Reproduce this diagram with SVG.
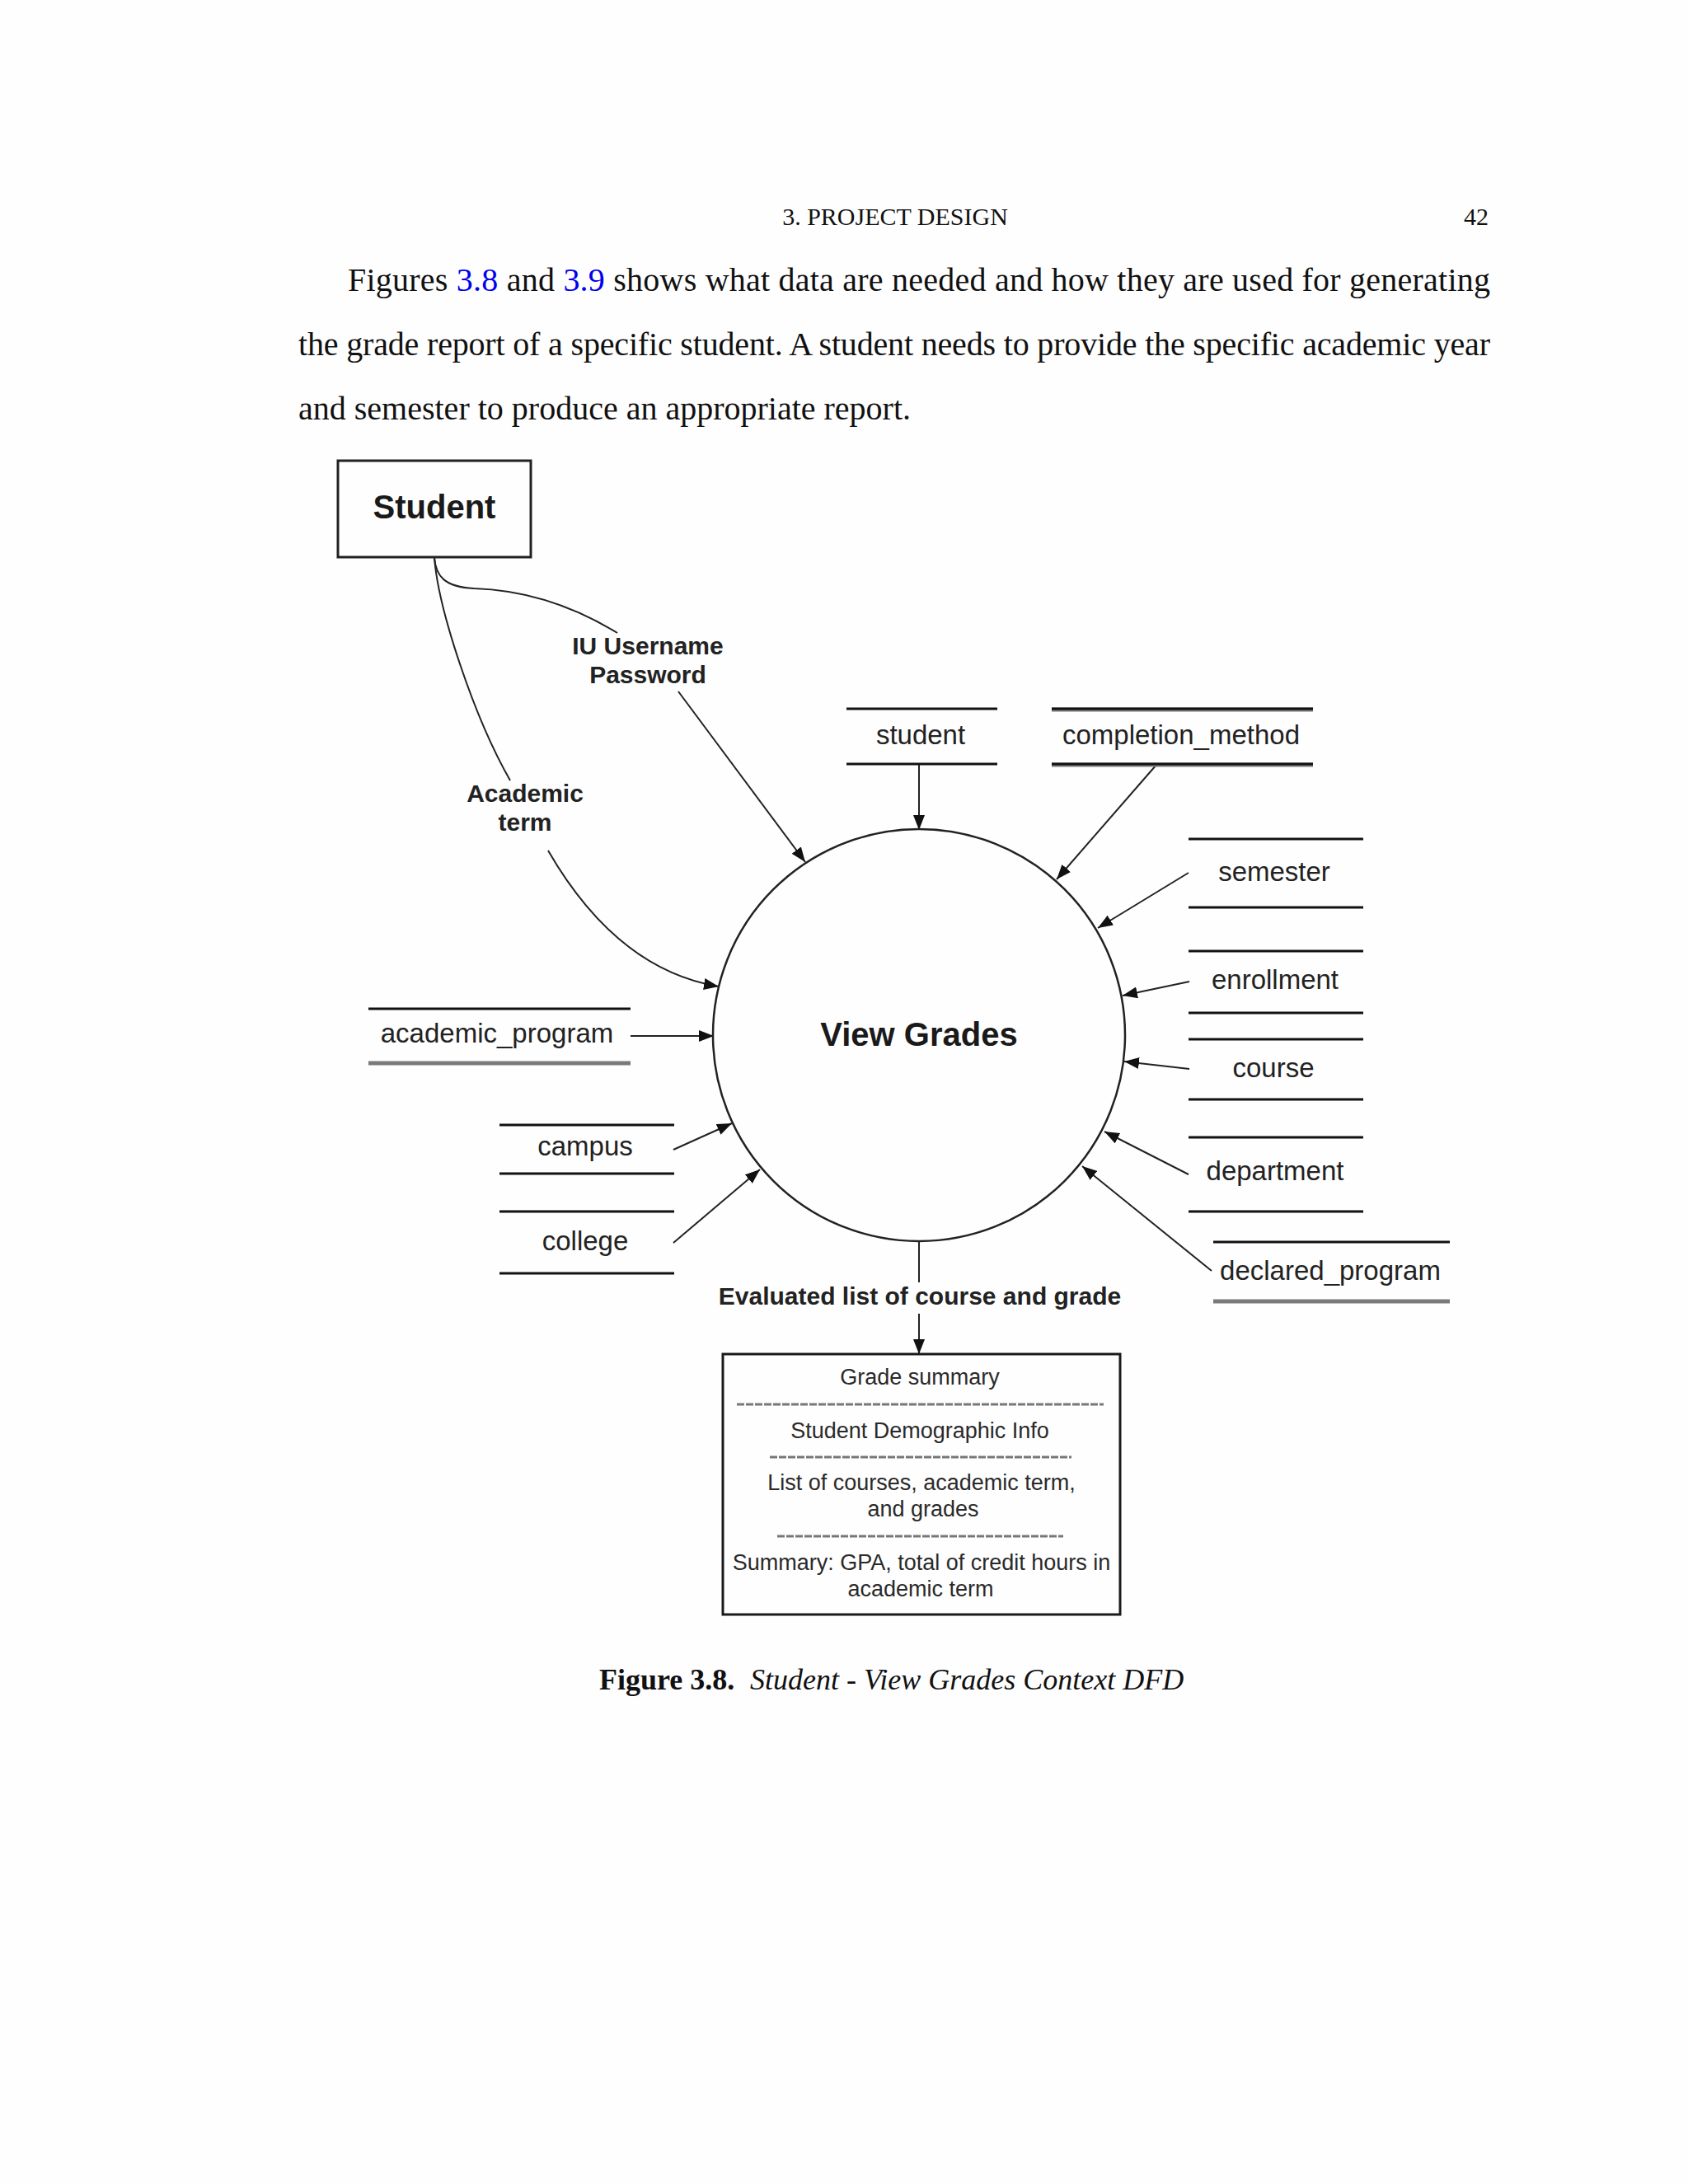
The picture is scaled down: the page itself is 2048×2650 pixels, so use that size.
<svg xmlns="http://www.w3.org/2000/svg" width="2048" height="2650" viewBox="0 0 2048 2650">
<style>
.serif{font-family:"Liberation Serif","Times New Roman",serif;fill:#111}
.sans{font-family:"Liberation Sans",Arial,sans-serif;fill:#222}
.lbl{font-family:"Liberation Sans",Arial,sans-serif;font-size:30px;font-weight:bold;fill:#222;text-anchor:middle}
.store{font-family:"Liberation Sans",Arial,sans-serif;font-size:33px;fill:#222;text-anchor:middle}
.box{font-family:"Liberation Sans",Arial,sans-serif;font-size:27px;fill:#2a2a2a;text-anchor:middle}
.sl{stroke:#111;stroke-width:3}
.slg{stroke:#7a7a7a;stroke-width:5}
.conn{fill:none;stroke:#222;stroke-width:2}
.dash{stroke:#777;stroke-width:3;stroke-dasharray:9 2}
</style>
<defs>
<marker id="ah" markerUnits="userSpaceOnUse" markerWidth="18" markerHeight="14" refX="18" refY="7" orient="auto">
<path d="M0,0 L18,7 L0,14 z" fill="#111"/>
</marker>
</defs>
<rect x="0" y="0" width="2048" height="2650" fill="#fefefe"/>

<g id="page-text">
<text class="serif" x="1086" y="273" font-size="30" text-anchor="middle">3. PROJECT DESIGN</text>
<text class="serif" x="1806" y="273" font-size="30" text-anchor="end">42</text>
<text class="serif" x="422" y="353" font-size="40" textLength="1386" lengthAdjust="spacing">Figures <tspan fill="#0000ee">3.8</tspan> and <tspan fill="#0000ee">3.9</tspan> shows what data are needed and how they are used for generating</text>
<text class="serif" x="362" y="431" font-size="40" textLength="1446" lengthAdjust="spacing">the grade report of a specific student.  A student needs to provide the specific academic year</text>
<text class="serif" x="362" y="509" font-size="40">and semester to produce an appropriate report.</text>
<text class="serif" x="727" y="2050" font-size="36"><tspan font-weight="bold">Figure 3.8.</tspan><tspan x="910" font-style="italic">Student - View Grades Context DFD</tspan></text>
</g>

<g id="connectors">
<path class="conn" d="M527,677 C529,700 540,712 575,714 C640,716 700,738 749,768"/>
<path class="conn" d="M823,839 L977,1046" marker-end="url(#ah)"/>
<path class="conn" d="M527,677 C532,740 575,870 619,947"/>
<path class="conn" d="M665,1032 Q748,1176 872,1197" marker-end="url(#ah)"/>
<path class="conn" d="M1115,928 L1115,1007" marker-end="url(#ah)"/>
<path class="conn" d="M1403,928 L1282,1067" marker-end="url(#ah)"/>
<path class="conn" d="M1442,1059 L1332,1126" marker-end="url(#ah)"/>
<path class="conn" d="M1443,1191 L1362,1208" marker-end="url(#ah)"/>
<path class="conn" d="M1443,1297 L1364,1288" marker-end="url(#ah)"/>
<path class="conn" d="M1442,1425 L1340,1373" marker-end="url(#ah)"/>
<path class="conn" d="M1470,1542 L1313,1415" marker-end="url(#ah)"/>
<path class="conn" d="M765,1257 L866,1257" marker-end="url(#ah)"/>
<path class="conn" d="M817,1395 L888,1363" marker-end="url(#ah)"/>
<path class="conn" d="M817,1508 L922,1419" marker-end="url(#ah)"/>
<path class="conn" d="M1115,1506 L1115,1556"/>
<path class="conn" d="M1115,1594 L1115,1643" marker-end="url(#ah)"/>
<text class="lbl" x="786" y="794">IU Username</text>
<text class="lbl" x="786" y="829">Password</text>
<text class="lbl" x="637" y="973">Academic</text>
<text class="lbl" x="637" y="1008">term</text>
<text class="lbl" x="1116" y="1583">Evaluated list of course and grade</text>
</g>

<g id="student">
<rect x="410" y="559" width="234" height="117" fill="none" stroke="#222" stroke-width="3"/>
<text x="527" y="629" font-family="Liberation Sans, Arial, sans-serif" font-size="40" font-weight="bold" fill="#1a1a1a" text-anchor="middle">Student</text>
</g>

<g id="view-grades">
<circle cx="1115" cy="1256" r="250" fill="none" stroke="#222" stroke-width="2.5"/>
<text x="1115" y="1269" font-family="Liberation Sans, Arial, sans-serif" font-size="40" font-weight="bold" fill="#1a1a1a" text-anchor="middle">View Grades</text>
</g>

<g id="store-student">
<line class="sl" x1="1027" y1="860" x2="1210" y2="860"/>
<line class="sl" x1="1027" y1="927" x2="1210" y2="927"/>
<text class="store" x="1117" y="903">student</text>
</g>
<g id="store-completion_method">
<line class="slg" x1="1276" y1="861" x2="1593" y2="861"/>
<line class="sl" x1="1276" y1="860" x2="1593" y2="860"/>
<line class="slg" x1="1276" y1="928" x2="1593" y2="928"/>
<line class="sl" x1="1276" y1="927" x2="1593" y2="927"/>
<text class="store" x="1433" y="903">completion_method</text>
</g>
<g id="store-semester">
<line class="sl" x1="1442" y1="1018" x2="1654" y2="1018"/>
<line class="sl" x1="1442" y1="1101" x2="1654" y2="1101"/>
<text class="store" x="1546" y="1069">semester</text>
</g>
<g id="store-enrollment">
<line class="sl" x1="1442" y1="1154" x2="1654" y2="1154"/>
<line class="sl" x1="1442" y1="1229" x2="1654" y2="1229"/>
<text class="store" x="1547" y="1200">enrollment</text>
</g>
<g id="store-course">
<line class="sl" x1="1442" y1="1261" x2="1654" y2="1261"/>
<line class="sl" x1="1442" y1="1334" x2="1654" y2="1334"/>
<text class="store" x="1545" y="1307">course</text>
</g>
<g id="store-department">
<line class="sl" x1="1442" y1="1380" x2="1654" y2="1380"/>
<line class="sl" x1="1442" y1="1470" x2="1654" y2="1470"/>
<text class="store" x="1547" y="1432">department</text>
</g>
<g id="store-declared_program">
<line class="sl" x1="1472" y1="1507" x2="1759" y2="1507"/>
<line class="slg" x1="1472" y1="1579" x2="1759" y2="1579"/>
<text class="store" x="1614" y="1553">declared_program</text>
</g>
<g id="store-academic_program">
<line class="sl" x1="447" y1="1224" x2="765" y2="1224"/>
<line class="slg" x1="447" y1="1290" x2="765" y2="1290"/>
<text class="store" x="603" y="1265">academic_program</text>
</g>
<g id="store-campus">
<line class="sl" x1="606" y1="1365" x2="818" y2="1365"/>
<line class="sl" x1="606" y1="1424" x2="818" y2="1424"/>
<text class="store" x="710" y="1402">campus</text>
</g>
<g id="store-college">
<line class="sl" x1="606" y1="1470" x2="818" y2="1470"/>
<line class="sl" x1="606" y1="1545" x2="818" y2="1545"/>
<text class="store" x="710" y="1517">college</text>
</g>

<g id="grade-summary">
<rect x="877" y="1643" width="482" height="316" fill="none" stroke="#1a1a1a" stroke-width="3"/>
<text class="box" x="1116" y="1680">Grade summary</text>
<line class="dash" x1="894" y1="1704" x2="1339" y2="1704"/>
<text class="box" x="1116" y="1745">Student Demographic Info</text>
<line class="dash" x1="934" y1="1768" x2="1300" y2="1768"/>
<text class="box" x="1118" y="1808">List of courses, academic term,</text>
<text class="box" x="1120" y="1840">and grades</text>
<line class="dash" x1="943" y1="1864" x2="1290" y2="1864"/>
<text class="box" x="1118" y="1905">Summary: GPA, total of credit hours in</text>
<text class="box" x="1117" y="1937">academic term</text>
</g>
</svg>
